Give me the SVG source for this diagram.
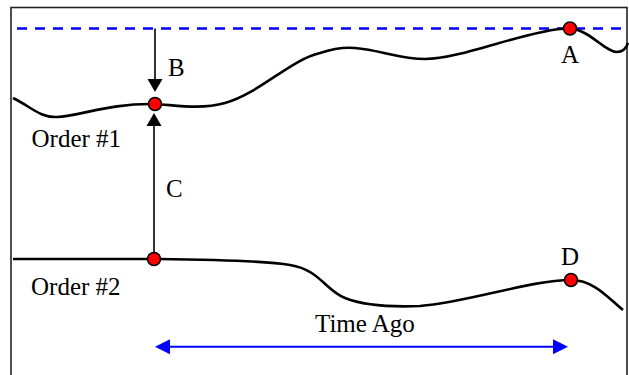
<svg xmlns="http://www.w3.org/2000/svg" width="629" height="375" viewBox="0 0 629 375">
<style>
text{font-family:"Liberation Serif","Times New Roman",serif;font-size:25px;fill:#000}
.curve{fill:none;stroke:#000;stroke-width:2.6}
.dot{fill:#f00;stroke:#000;stroke-width:1.5}
.conn{fill:none;stroke:#000;stroke-width:1.6}
.blue{fill:none;stroke:#0000ff;stroke-width:2}
</style>
<rect x="11" y="7.5" width="616" height="380" fill="#fff" stroke="#222" stroke-width="1.6"/>
<line x1="17" y1="28.5" x2="627" y2="28.5" stroke="#0000ff" stroke-width="2.7" stroke-dasharray="10,8"/>
<g id="order1">
<path class="curve" d="M13,98 C30,106 40,118 57,117 C80,116 110,103 155,104 C175,105 200,110 225,103 C260,93 290,60 320,53 C335,48 345,47 355,48 C380,50 400,59 425,59 C460,59 520,33 560,29 L570,28.5 C590,30 605,52 617,52 C625,52 627,46 628,43"/>
<text x="31.5" y="147">Order #1</text>
</g>
<g id="order2">
<path class="curve" d="M13,259 L154,259 C200,259.5 260,260 290,265 C320,270 325,290 345,298 C365,306 395,307 420,306 C470,302 530,280 571,280 C595,280 610,300 623,310"/>
<text x="31" y="295">Order #2</text>
</g>
<g id="connectors">
<path class="conn" d="M155,28.5 V82"/>
<path d="M147.5,79 L155,92 L162.5,79 Z" fill="#000"/>
<path class="conn" d="M154,252 V122"/>
<path d="M146.5,126 L154,113 L161.5,126 Z" fill="#000"/>
<path class="blue" d="M165,346.7 H558"/>
<path d="M170,339.2 L155,346.7 L170,354.2 Z" fill="#0000ff"/>
<path d="M553,339.2 L568,346.7 L553,354.2 Z" fill="#0000ff"/>
</g>
<g id="pointB"><circle class="dot" cx="155" cy="104" r="6.5"/><text x="168" y="76">B</text></g>
<g id="pointC"><circle class="dot" cx="154" cy="259" r="6.5"/><text x="166" y="197">C</text></g>
<g id="pointA"><circle class="dot" cx="570" cy="28.5" r="6.5"/><text x="570" y="63" text-anchor="middle">A</text></g>
<g id="pointD"><circle class="dot" cx="571" cy="280" r="6.5"/><text x="570" y="265" text-anchor="middle">D</text></g>
<text x="315" y="332">Time Ago</text>
</svg>
